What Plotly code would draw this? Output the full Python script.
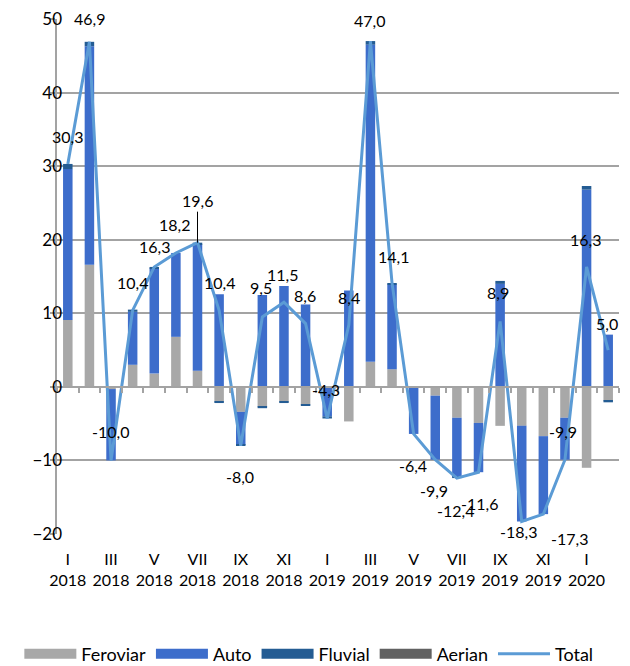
import plotly.graph_objects as go

# months I 2018 .. II 2020
months = ["I", "II", "III", "IV", "V", "VI", "VII", "VIII", "IX", "X", "XI", "XII"]
categories = [f"{m} {y}" for y in (2018, 2019) for m in months] + ["I 2020", "II 2020"]

feroviar = [9.1, 16.6, -0.3, 3.0, 1.8, 6.8, 2.2, -2.0, -3.4, -2.7, -2.0, -2.4, 0.0,
            -4.7, 3.4, 2.4, -0.1, -1.2, -4.2, -4.9, -5.3, -5.3, -6.7, -4.2, -11.0, -1.9]
auto = [20.5, 29.7, -9.7, 7.2, 14.3, 11.4, 17.2, 12.6, -4.5, 12.5, 13.7, 11.2, -4.0,
        13.1, 43.1, 11.5, -6.3, -8.7, -8.0, -6.7, 14.0, -13.0, -10.6, -5.7, 26.8, 7.1]
fluvial = [0.7, 0.6, 0.0, 0.3, 0.2, 0.0, 0.2, -0.2, -0.1, -0.2, -0.2, -0.2, -0.3,
           0.0, 0.5, 0.2, 0.0, 0.0, -0.2, 0.0, 0.4, 0.0, 0.0, 0.0, 0.5, -0.2]
aerian = [0.0, 0.0, 0.0, 0.0, 0.0, 0.0, 0.0, 0.0, 0.0, 0.0, 0.0, 0.0, 0.0,
          0.0, 0.0, 0.0, 0.0, 0.0, 0.0, 0.0, 0.0, 0.0, 0.0, 0.0, 0.0, 0.0]
total = [30.3, 46.9, -10.0, 10.4, 16.3, 18.2, 19.6, 10.4, -8.0, 9.5, 11.5, 8.6, -4.3,
         8.4, 47.0, 14.1, -6.4, -9.9, -12.4, -11.6, 8.9, -18.3, -17.3, -9.9, 16.3, 5.0]

tick_cats = categories[::2]
tick_text = [c.replace(" ", "<br>") for c in tick_cats]

# label offsets in pixels (dx right, dy up)
label_dx = [0, 0, -1, 0, 0, -1, 0, 0, -1, -1, -1, -1, -1, 0, -1, 1, -1, -1, -1, 1, -2, -3, 26, -2, -1, -1]
label_dy = [27, 23, 29, 28, 20, 28, 42, 28, -31, 29, 28, 28, 29, 28, 21, 27, -32, -31, -32, -31, 29, -10, -24, 28, 27, 27]

FONT = "Lato"
GRID = "#A3A3A3"
Y_RANGE = [-20, 50]

series = [
    ("Feroviar", feroviar, "#A8A8A8"),
    ("Auto", auto, "#3D6DCB"),
    ("Fluvial", fluvial, "#245C93"),
    ("Aerian", aerian, "#616161"),
]

fig = go.Figure()
for name, vals, col in series:
    fig.add_trace(go.Bar(x=categories, y=vals, name=name, marker_color=col,
                         marker_line_width=0, showlegend=False))
    # wide legend swatch
    fig.add_trace(go.Scatter(x=[None], y=[None], mode="lines", name=name,
                             line=dict(color=col, width=10)))

fig.add_trace(go.Scatter(x=categories, y=total, name="Total", mode="lines",
                         line=dict(color="#5B9BD5", width=3), xaxis="x2", yaxis="y2"))

annotations = []
for i, (c, v) in enumerate(zip(categories, total)):
    txt = f"{v:.1f}".replace(".", ",")
    if i == 6:
        annotations.append(dict(x=c, y=v, xref="x", yref="y", text=txt, showarrow=True,
                                arrowhead=0, arrowwidth=1, arrowcolor="black",
                                ax=label_dx[i], ay=-label_dy[i], font=dict(size=16)))
    else:
        annotations.append(dict(x=c, y=v, xref="x", yref="y", text=txt, showarrow=False,
                                xshift=label_dx[i], yshift=label_dy[i], font=dict(size=16)))

# the page body adds 8px margin, so the figure is 8px smaller and margins are shifted
fig.update_layout(
    width=622, height=658,
    margin=dict(l=49, r=11, t=11, b=132, autoexpand=False),
    barmode="relative", bargap=0.56,
    plot_bgcolor="white", paper_bgcolor="white",
    font=dict(family=FONT, size=16, color="black"),
    annotations=annotations,
    legend=dict(orientation="h", x=-0.067, xanchor="left", y=-0.233, yanchor="middle",
                font=dict(size=18), itemwidth=52, traceorder="normal", tracegroupgap=0),
    xaxis=dict(type="category", categoryorder="array", categoryarray=categories,
               range=[-0.5, 25.5], tickvals=tick_cats, ticktext=tick_text,
               showgrid=False, showline=False, ticks="", zeroline=False,
               ticklabelstandoff=14),
    xaxis2=dict(type="category", categoryorder="array", categoryarray=categories,
                range=[-0.5, 25.5], overlaying="x", anchor="free", position=20 / 70,
                side="bottom", showticklabels=False, showgrid=False, showline=True,
                linecolor=GRID, linewidth=2, ticks="outside", tickson="boundaries",
                ticklen=5, tickcolor=GRID, tickwidth=1.5),
    yaxis=dict(range=Y_RANGE, dtick=10, showgrid=True, gridcolor=GRID, gridwidth=2,
               zeroline=False, showline=True, linecolor=GRID, linewidth=2,
               ticks="outside", ticklen=5, tickcolor=GRID, tickwidth=1.5,
               showticklabels=False),
    # carries the tick labels, nudged closer to the axis line
    yaxis2=dict(range=Y_RANGE, dtick=10, overlaying="y", anchor="free", position=0.024,
                side="left", showgrid=False, zeroline=False, showline=False,
                ticks="outside", ticklen=5, tickcolor="rgba(0,0,0,0)",
                tickfont=dict(size=17), ticklabeloverflow="allow"),
)

fig.write_html("out.html")
